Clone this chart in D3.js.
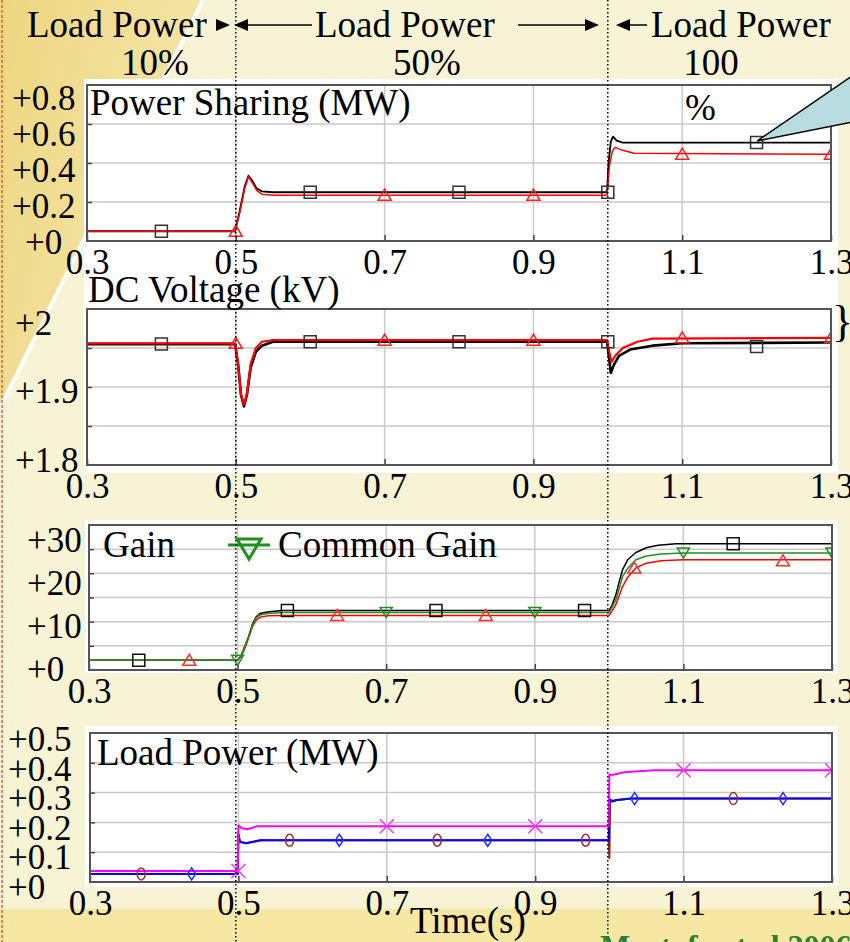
<!DOCTYPE html>
<html>
<head>
<meta charset="utf-8">
<script src="https://cdn.jsdelivr.net/npm/d3@7"></script>
<style>
  body { margin: 0; background: #f7f4d6; }
  svg text { font-family: "Liberation Serif", "Times New Roman", serif; }
</style>
</head>
<body>
<div id="chart"></div>
<script>

// ---- data ----
const timeTicks = [0.3, 0.5, 0.7, 0.9, 1.1, 1.3];
const timeGrid = [0.5, 0.7, 0.9, 1.1];
const stepTimes = [0.5, 1.0];

// power sharing (MW)
const shareTicks = [0, 0.2, 0.4, 0.6, 0.8];
const shareLabels = ["+0", "+0.2", "+0.4", "+0.6", "+0.8"];
const shareGrid = [0.2, 0.4, 0.6];
const shareBlack = [[0.3,0.05],[0.499,0.05],[0.505,0.15],[0.512,0.28],[0.517,0.335],[0.522,0.31],[0.528,0.27],[0.535,0.255],[0.55,0.25],[0.999,0.25],[1.001,0.4],[1.004,0.51],[1.007,0.535],[1.012,0.515],[1.02,0.505],[1.3,0.505]];
const shareRed = [[0.3,0.05],[0.499,0.05],[0.505,0.14],[0.512,0.27],[0.517,0.33],[0.522,0.3],[0.528,0.26],[0.535,0.24],[0.55,0.235],[0.999,0.235],[1.002,0.38],[1.006,0.46],[1.01,0.48],[1.02,0.465],[1.035,0.45],[1.3,0.445]];
const shareBlackMarks = [[0.4,0.05],[0.6,0.25],[0.8,0.25],[1.0,0.25],[1.2,0.505]];
const shareRedMarks = [[0.5,0.05],[0.7,0.235],[0.9,0.235],[1.1,0.445],[1.3,0.445]];

// DC voltage (kV)
const voltTicks = [1.8, 1.9, 2.0];
const voltLabels = ["+1.8", "+1.9", "+2"];
const voltGrid = [1.85, 1.9, 1.95];
const voltBlack = [[0.3,1.955],[0.499,1.955],[0.503,1.93],[0.507,1.89],[0.511,1.875],[0.515,1.89],[0.52,1.925],[0.527,1.945],[0.535,1.953],[0.55,1.958],[0.999,1.958],[1.002,1.935],[1.004,1.918],[1.008,1.928],[1.015,1.94],[1.03,1.948],[1.06,1.953],[1.1,1.956],[1.3,1.957]];
const voltRed = [[0.3,1.956],[0.499,1.956],[0.503,1.93],[0.507,1.89],[0.511,1.877],[0.515,1.892],[0.52,1.93],[0.527,1.95],[0.535,1.958],[0.55,1.96],[0.999,1.96],[1.002,1.945],[1.005,1.932],[1.01,1.94],[1.02,1.95],[1.04,1.958],[1.06,1.962],[1.3,1.963]];
const voltBlackMarks = [[0.4,1.955],[0.6,1.958],[0.8,1.958],[1.0,1.958],[1.2,1.952]];
const voltRedMarks = [[0.5,1.956],[0.7,1.96],[0.9,1.96],[1.1,1.963],[1.3,1.963]];

// gain
const gainTicks = [0, 10, 20, 30];
const gainLabels = ["+0", "+10", "+20", "+30"];
const gainGrid = [5, 10, 15, 20, 25];
const gainBlack = [[0.3,2],[0.5,2],[0.505,3],[0.51,5],[0.515,7],[0.52,9.5],[0.525,11],[0.53,11.7],[0.54,12],[0.56,12.3],[1.0,12.3],[1.004,13.5],[1.009,15.5],[1.014,18.5],[1.018,20.7],[1.025,22.8],[1.036,24.3],[1.05,25.3],[1.066,25.8],[1.09,26.1],[1.3,26.1]];
const gainRed = [[0.3,2],[0.5,2],[0.505,2.8],[0.51,4.6],[0.515,6.7],[0.52,9],[0.525,10.3],[0.53,10.9],[0.54,11.2],[0.56,11.3],[1.0,11.3],[1.005,12.5],[1.009,13.5],[1.014,15.5],[1.018,17.2],[1.025,19.2],[1.036,21.1],[1.05,22.1],[1.07,22.6],[1.1,22.8],[1.3,22.8]];
const gainGreen = [[0.3,2],[0.5,2],[0.505,3],[0.51,5],[0.515,7],[0.52,9.3],[0.525,10.8],[0.53,11.4],[0.54,11.7],[0.56,11.9],[1.0,11.9],[1.004,13],[1.009,14.5],[1.014,17],[1.018,19.3],[1.025,21],[1.036,22.8],[1.05,23.6],[1.07,24],[1.1,24.2],[1.3,24.2]];
const gainBlackMarks = [[0.367,2],[0.567,12.3],[0.767,12.3],[0.967,12.3],[1.167,26.1]];
const gainRedMarks = [[0.435,2],[0.634,11.3],[0.834,11.3],[1.034,21.1],[1.234,22.6]];
const gainGreenMarks = [[0.5,2],[0.7,11.9],[0.9,11.9],[1.1,24.2],[1.3,24.2]];

// load power (MW)
const loadTicks = [0, 0.1, 0.2, 0.3, 0.4, 0.5];
const loadLabels = ["+0", "+0.1", "+0.2", "+0.3", "+0.4", "+0.5"];
const loadGrid = [0.1, 0.2, 0.3, 0.4];
const loadBrown = [[0.3,0.027],[0.499,0.027],[0.5,0.16],[0.502,0.135],[0.51,0.13],[0.52,0.135],[0.53,0.14],[0.999,0.14],[1.0,0.08],[1.001,0.27],[1.005,0.27],[1.01,0.275],[1.03,0.28],[1.3,0.28]];
const loadBlue = [[0.3,0.027],[0.499,0.027],[0.5,0.16],[0.502,0.135],[0.51,0.13],[0.52,0.135],[0.53,0.14],[0.999,0.14],[1.0,0.28],[1.003,0.272],[1.01,0.275],[1.03,0.28],[1.3,0.28]];
const loadMagenta = [[0.3,0.037],[0.499,0.037],[0.5,0.19],[0.505,0.18],[0.512,0.177],[0.52,0.183],[0.525,0.187],[0.999,0.187],[1.0,0.36],[1.005,0.36],[1.02,0.368],[1.04,0.372],[1.06,0.375],[1.3,0.375]];
const loadBrownMarks = [[0.369,0.027],[0.569,0.14],[0.768,0.14],[0.968,0.14],[1.167,0.28]];
const loadBlueMarks = [[0.437,0.027],[0.636,0.14],[0.836,0.14],[1.034,0.28],[1.234,0.28]];
const loadMagentaMarks = [[0.5,0.037],[0.7,0.187],[0.9,0.187],[1.1,0.375],[1.3,0.375]];

// ---- layout ----
const W = 850, H = 942;

const svg = d3.select("#chart").append("svg")
    .attr("width", W)
    .attr("height", H);

const defs = svg.append("defs");
const grad = defs.append("linearGradient")
    .attr("id", "gold")
    .attr("x1", "0").attr("y1", "0").attr("x2", "1").attr("y2", "0.5");
grad.append("stop").attr("offset", "0%").attr("stop-color", "#eed680");
grad.append("stop").attr("offset", "100%").attr("stop-color", "#f4e8ad");

/* background decoration */
svg.append("rect").attr("width", W).attr("height", H).attr("fill", "#f7f4d6");
svg.append("path").attr("d", "M0,0L204,0L0,410Z").attr("fill", "url(#gold)");
svg.append("line")
    .attr("x1", 203).attr("y1", 0).attr("x2", 0).attr("y2", 408)
    .attr("stroke", "#ffffff").attr("stroke-width", 4);
svg.append("rect").attr("x", 0).attr("y", 909).attr("width", W).attr("height", H - 909).attr("fill", "#f6e7a3");
svg.append("line")
    .attr("x1", 2).attr("x2", 2).attr("y1", 0).attr("y2", H)
    .attr("stroke", "#ee5a3c").attr("stroke-width", 1.5).attr("stroke-dasharray", "3,2");

/* white paper under the plots */
const paper = [[84, 79, 754, 394], [85, 520, 753, 153], [85, 726, 753, 161]];
svg.selectAll(".paper").data(paper).enter().append("rect")
    .attr("class", "paper")
    .attr("x", d => d[0]).attr("y", d => d[1])
    .attr("width", d => d[2]).attr("height", d => d[3])
    .attr("fill", "#ffffff");

const markShapes = {
    square: "M-6,-6h12v12h-12z",
    up: "M0,-6L6.5,5L-6.5,5Z",
    down: "M0,5L6,-5L-6,-5Z",
    diamond: "M0,-6L4,0L0,6L-4,0Z",
    circle: "M-4,0a4,6 0 1,0 8,0a4,6 0 1,0 -8,0",
    cross: "M-7,-7L7,7M-7,7L7,-7"
};

const panels = [
    { id: "share", x0: 87, x1: 831, top: 85, bottom: 241, domain: [0, 0.8],
      ticks: shareTicks, labels: shareLabels, grid: shareGrid, labelX: 12, zeroX: 25, labelRange: [242, 98],
      series: [
        { data: shareBlack, marks: shareBlackMarks, color: "#000000", mark: "square", markColor: "#333333", width: 1.8 },
        { data: shareRed, marks: shareRedMarks, color: "#ff0000", mark: "up", markColor: "#ff2020", width: 1.5 }
      ] },
    { id: "volt", x0: 87, x1: 831, top: 309, bottom: 465, domain: [1.8, 2.0],
      ticks: voltTicks, labels: voltLabels, grid: voltGrid, labelX: 15, zeroX: 15, labelRange: [460, 323],
      series: [
        { data: voltBlack, marks: voltBlackMarks, color: "#000000", mark: "square", markColor: "#333333", width: 2.6 },
        { data: voltRed, marks: voltRedMarks, color: "#ff0000", mark: "up", markColor: "#ff2020", width: 2.2 }
      ] },
    { id: "gain", x0: 89, x1: 832, top: 525, bottom: 670, domain: [0, 30],
      ticks: gainTicks, labels: gainLabels, grid: gainGrid, labelX: 27, zeroX: 27, labelRange: [669, 540],
      series: [
        { data: gainBlack, marks: gainBlackMarks, color: "#000000", mark: "square", markColor: "#111111", width: 1.5 },
        { data: gainRed, marks: gainRedMarks, color: "#ff0000", mark: "up", markColor: "#ff3030", width: 1.5 },
        { data: gainGreen, marks: gainGreenMarks, color: "#1f8f1f", mark: "down", markColor: "#1f8f1f", width: 1.5 }
      ] },
    { id: "load", x0: 90, x1: 832, top: 733, bottom: 882, domain: [0, 0.5],
      ticks: loadTicks, labels: loadLabels, grid: loadGrid, labelX: 8, zeroX: 8, labelRange: [887, 739],
      series: [
        { data: loadBrown, marks: loadBrownMarks, color: "#8b2525", mark: "circle", markColor: "#9a3333", width: 2 },
        { data: loadBlue, marks: loadBlueMarks, color: "#0000ff", mark: "diamond", markColor: "#2030ff", width: 2 },
        { data: loadMagenta, marks: loadMagentaMarks, color: "#ff00ff", mark: "cross", markColor: "#ff33ff", width: 2 }
      ] }
];

panels.forEach(drawPanel);

function drawPanel(p) {
    const x = d3.scaleLinear().domain([0.3, 1.3]).range([p.x0, p.x1]);
    const y = d3.scaleLinear().domain(p.domain).range([p.bottom, p.top]);
    const yLabel = d3.scaleLinear().domain([p.ticks[0], p.ticks[p.ticks.length - 1]]).range(p.labelRange);

    const g = svg.append("g").attr("class", "panel " + p.id);

    defs.append("clipPath").attr("id", "clip-" + p.id)
        .append("rect")
        .attr("x", p.x0).attr("y", p.top)
        .attr("width", p.x1 - p.x0).attr("height", p.bottom - p.top);

    // grid
    g.selectAll(".hgrid").data(p.grid).enter().append("line")
        .attr("x1", p.x0).attr("x2", p.x1)
        .attr("y1", d => y(d)).attr("y2", d => y(d))
        .attr("stroke", "#c9c9c9").attr("stroke-width", 1.5);
    g.selectAll(".vgrid").data(timeGrid).enter().append("line")
        .attr("x1", d => x(d)).attr("x2", d => x(d))
        .attr("y1", p.top).attr("y2", p.bottom)
        .attr("stroke", "#c9c9c9").attr("stroke-width", 1.5);

    // inner tick marks
    g.append("g")
        .attr("transform", "translate(" + p.x0 + ",0)")
        .call(d3.axisLeft(y).tickValues(p.grid).tickSize(-5).tickFormat(""))
        .call(a => a.select(".domain").remove())
        .call(a => a.selectAll("line").attr("stroke", "#444").attr("stroke-width", 1.5));

    const xAxis = g.append("g")
        .attr("transform", "translate(0," + p.bottom + ")")
        .call(d3.axisBottom(x).tickValues(timeTicks).tickSize(-6).tickPadding(8)
            .tickFormat(d3.format(".1f")));
    xAxis.select(".domain").remove();
    xAxis.selectAll("line").attr("stroke", "#444").attr("stroke-width", 1.5);
    xAxis.selectAll("text")
        .attr("fill", "#000")
        .style("font-family", '"Liberation Serif", serif')
        .style("font-size", "35px");

    // lines
    const line = d3.line().x(d => x(d[0])).y(d => y(d[1]));
    const plot = g.append("g").attr("clip-path", "url(#clip-" + p.id + ")");
    p.series.forEach(s => {
        plot.append("path")
            .attr("d", line(s.data))
            .attr("fill", "none")
            .attr("stroke", s.color)
            .attr("stroke-width", s.width)
            .attr("stroke-linejoin", "round");
    });
    p.series.forEach(s => {
        plot.selectAll(null).data(s.marks).enter().append("path")
            .attr("transform", d => "translate(" + x(d[0]) + "," + y(d[1]) + ")")
            .attr("d", markShapes[s.mark])
            .attr("fill", "none")
            .attr("stroke", s.markColor)
            .attr("stroke-width", 1.5);
    });

    // frame
    g.append("rect")
        .attr("x", p.x0).attr("y", p.top)
        .attr("width", p.x1 - p.x0).attr("height", p.bottom - p.top)
        .attr("fill", "none")
        .attr("stroke", "#555").attr("stroke-width", 2);

    // y labels
    g.selectAll(".ylab").data(p.ticks).enter().append("text")
        .attr("x", d => d === 0 ? p.zeroX : p.labelX)
        .attr("y", d => yLabel(d))
        .attr("dy", "0.34em")
        .style("font-size", "35px")
        .text((d, i) => p.labels[i]);
}

/* titles */
const titles = [
    ["Power Sharing (MW)", 90, 115],
    ["DC Voltage (kV)", 88, 302],
    ["Gain", 103, 557],
    ["Common Gain", 278, 557],
    ["Load Power (MW)", 97, 765],
    ["Time(s)", 410, 933],
    ["%", 685, 120]
];
svg.selectAll(".title").data(titles).enter().append("text")
    .attr("x", d => d[1])
    .attr("y", d => d[2])
    .style("font-size", "37px")
    .text(d => d[0]);

/* legend for common gain */
svg.append("line")
    .attr("x1", 228).attr("x2", 270).attr("y1", 545).attr("y2", 545)
    .attr("stroke", "#1f8f1f").attr("stroke-width", 3);
svg.append("path")
    .attr("transform", "translate(249,548)")
    .attr("d", "M0,11L12,-9L-12,-9Z")
    .attr("fill", "none").attr("stroke", "#1f8f1f").attr("stroke-width", 3);

/* load step annotations at the top */
const topText = [
    ["Load Power", 27, 37, "start"],
    ["10%", 155, 75, "middle"],
    ["Load Power", 315, 37, "start"],
    ["50%", 427, 75, "middle"],
    ["Load Power", 651, 37, "start"],
    ["100", 711, 75, "middle"]
];
svg.selectAll(".toptext").data(topText).enter().append("text")
    .attr("x", d => d[1]).attr("y", d => d[2])
    .attr("text-anchor", d => d[3])
    .style("font-size", "37px")
    .text(d => d[0]);

const arrows = [
    { from: 216, to: 230 },
    { from: 312, to: 234 },
    { from: 518, to: 599 },
    { from: 647, to: 616 }
];
arrows.forEach(a => {
    const dir = a.to > a.from ? 1 : -1;
    svg.append("line")
        .attr("x1", a.from).attr("x2", a.to - dir * 12)
        .attr("y1", 25).attr("y2", 25)
        .attr("stroke", "#000").attr("stroke-width", 1.5);
    svg.append("path")
        .attr("d", "M" + a.to + ",25L" + (a.to - dir * 14) + ",19L" + (a.to - dir * 14) + ",31Z")
        .attr("fill", "#000");
});

/* dotted step lines across all plots */
const xTop = d3.scaleLinear().domain([0.3, 1.3]).range([87, 831]);
svg.selectAll(".step").data(stepTimes).enter().append("line")
    .attr("x1", d => xTop(d)).attr("x2", d => xTop(d))
    .attr("y1", 0).attr("y2", H)
    .attr("stroke", "#000").attr("stroke-width", 1.5)
    .attr("stroke-dasharray", "1.5,2.5");

/* callout and brace */
svg.append("path")
    .attr("d", "M757,141L852,76L852,122Z")
    .attr("fill", "#b8dde1").attr("stroke", "#000").attr("stroke-width", 1.5);
svg.append("text")
    .attr("x", 832).attr("y", 336)
    .style("font-size", "44px")
    .text("}");

/* cut-off reference at the bottom */
svg.append("text")
    .attr("x", 600).attr("y", 957)
    .attr("fill", "#2e7d32")
    .style("font-size", "32px")
    .style("font-weight", "bold")
    .text("Mustafa et al 2006");

</script>
</body>
</html>
